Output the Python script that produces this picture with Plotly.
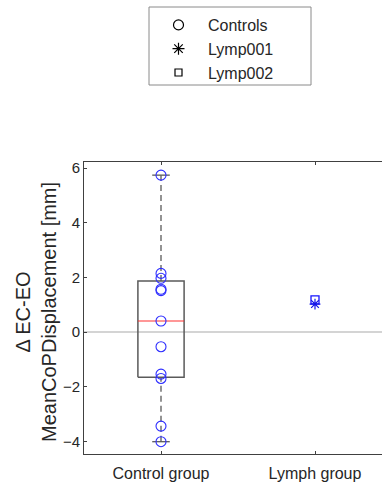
import numpy as np
import plotly.graph_objects as go

# Data
categories = ["Control group", "Lymph group"]
controls = [5.74, 2.15, 1.97, 1.57, 1.52, 0.41, -0.53, -1.53, -1.69, -3.43, -4.00]
lymp001 = [1.03]
lymp002 = [1.18]
y_ticks = [-4, -2, 0, 2, 4, 6]

BLUE = "rgb(45,45,255)"
BOX_COLOR = "#5a5a5a"
FONT = "Liberation Sans, Arial, sans-serif"


def matlab_prctile(values, p):
    """Percentile with the midpoint interpolation used by MATLAB's prctile."""
    v = np.sort(np.asarray(values, dtype=float))
    n = len(v)
    pos = p / 100.0 * n + 0.5
    if pos <= 1:
        return v[0]
    if pos >= n:
        return v[-1]
    lo = int(np.floor(pos))
    frac = pos - lo
    return v[lo - 1] + frac * (v[lo] - v[lo - 1])


q1 = matlab_prctile(controls, 25)
med = matlab_prctile(controls, 50)
q3 = matlab_prctile(controls, 75)
iqr = q3 - q1
arr = np.asarray(controls)
w_hi = arr[arr <= q3 + 1.5 * iqr].max()
w_lo = arr[arr >= q1 - 1.5 * iqr].min()

xc = 1.0
half_box = 0.15
half_cap = 0.057

fig = go.Figure()

# Whiskers (dashed)
fig.add_trace(go.Scatter(x=[xc, xc], y=[q3, w_hi], mode="lines",
                         line=dict(color=BOX_COLOR, width=1.3, dash="6px,4px"),
                         showlegend=False, hoverinfo="skip"))
fig.add_trace(go.Scatter(x=[xc, xc], y=[w_lo, q1], mode="lines",
                         line=dict(color=BOX_COLOR, width=1.3, dash="6px,4px"),
                         showlegend=False, hoverinfo="skip"))
# Whisker caps
for wv in (w_hi, w_lo):
    fig.add_trace(go.Scatter(x=[xc - half_cap, xc + half_cap], y=[wv, wv], mode="lines",
                             line=dict(color=BOX_COLOR, width=1.3),
                             showlegend=False, hoverinfo="skip"))
# Box
fig.add_trace(go.Scatter(
    x=[xc - half_box, xc + half_box, xc + half_box, xc - half_box, xc - half_box],
    y=[q1, q1, q3, q3, q1], mode="lines",
    line=dict(color=BOX_COLOR, width=1.5),
    showlegend=False, hoverinfo="skip"))
# Median
fig.add_trace(go.Scatter(x=[xc - half_box, xc + half_box], y=[med, med], mode="lines",
                         line=dict(color="#ff3030", width=1.2),
                         showlegend=False, hoverinfo="skip"))

# Individual observations
fig.add_trace(go.Scatter(x=[1] * len(controls), y=controls, mode="markers",
                         marker=dict(symbol="circle-open", size=10, color=BLUE,
                                     line=dict(width=1.1, color=BLUE)),
                         showlegend=False))
fig.add_trace(go.Scatter(x=[2] * len(lymp002), y=lymp002, mode="markers",
                         marker=dict(symbol="square-open", size=8, color="rgb(20,20,255)",
                                     line=dict(width=1.3, color="rgb(20,20,255)")),
                         showlegend=False))
fig.add_trace(go.Scatter(x=[2] * len(lymp001), y=lymp001, mode="markers",
                         marker=dict(symbol="asterisk-open", size=9, color="rgb(20,20,230)",
                                     line=dict(width=1.2, color="rgb(20,20,230)")),
                         showlegend=False))

# Legend entries (black symbols)
legend_items = [("Controls", "circle-open", 10), ("Lymp001", "asterisk-open", 10),
                ("Lymp002", "square-open", 7)]
for i, (name, sym, sz) in enumerate(legend_items):
    fig.add_trace(go.Scatter(x=[None], y=[None], mode="markers", name=name,
                             legendgroup=f"g{i}",
                             marker=dict(symbol=sym, size=sz, color="black",
                                         line=dict(width=1.2, color="black"))))

W, H = 382, 488
L, R, T, B = 84, 0, 162, 34
pw, ph = W - L - R, H - T - B


def px_x(px):
    return (px - L) / pw


def px_y(py):
    return (H - B - py) / ph


fig.update_layout(
    width=W, height=H,
    margin=dict(l=L, r=R, t=T, b=B, autoexpand=False),
    paper_bgcolor="white", plot_bgcolor="white",
    font=dict(family=FONT, color="#262626"),
    showlegend=True,
    legend=dict(x=px_x(149), y=px_y(8), xanchor="left", yanchor="top",
                bgcolor="rgba(0,0,0,0)", borderwidth=0, itemwidth=49,
                tracegroupgap=0, font=dict(size=16, family=FONT, color="#262626")),
    shapes=[dict(type="rect", xref="paper", yref="paper",
                 x0=px_x(149), x1=px_x(311), y0=px_y(85), y1=px_y(7),
                 line=dict(color="#8a8a8a", width=1))],
    # Two-line y-axis label
    annotations=[dict(text="Δ EC-EO<br>MeanCoPDisplacement [mm]", textangle=-90,
                      xref="paper", yref="paper", x=px_x(36), y=px_y(312),
                      xanchor="center", yanchor="middle", showarrow=False,
                      font=dict(size=20, family=FONT, color="#262626"))],
    xaxis=dict(range=[0.5, 0.5 + pw / 154.0], tickvals=[1, 2], ticktext=categories,
               ticks="inside", ticklen=3, tickcolor="#404040", ticklabelstandoff=5,
               showline=True, linecolor="#404040", linewidth=1, mirror="ticks",
               showgrid=False, zeroline=False,
               tickfont=dict(size=16, family=FONT, color="#262626")),
    yaxis=dict(range=[-4.45, 6.22], tickvals=y_ticks,
               ticks="inside", ticklen=3, tickcolor="#404040",
               showline=True, linecolor="#404040", linewidth=1, mirror=False,
               showgrid=False, zeroline=True, zerolinecolor="#d4d4d4", zerolinewidth=2,
               tickfont=dict(size=15, family=FONT, color="#262626")),
)

fig.write_html("out.html")
